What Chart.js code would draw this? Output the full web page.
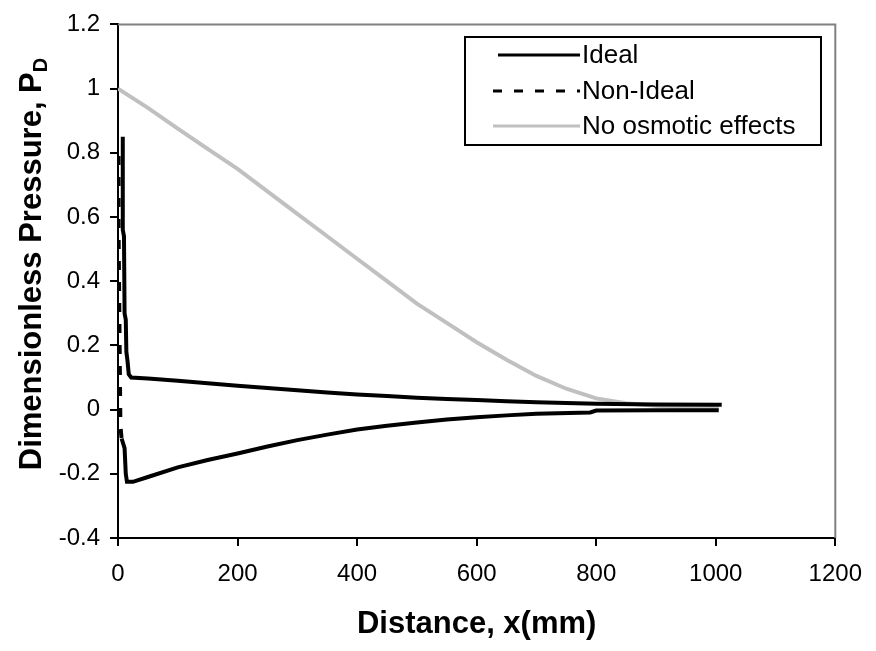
<!DOCTYPE html>
<html>
<head>
<meta charset="utf-8">
<script src="https://cdn.jsdelivr.net/npm/chart.js@4.4.1/dist/chart.umd.min.js"></script>
<style>
  html, body { margin: 0; padding: 0; background: #fff; }
  #wrap { width: 876px; height: 651px; }
</style>
</head>
<body>
<div id="wrap"><canvas id="pressure-chart" width="876" height="651"></canvas></div>
<script>
// distance in mm, dimensionless pressure P_D
var idealX = [8, 8, 10, 11, 13, 14, 16, 18, 22, 50, 100, 150, 200, 250, 300, 350, 400, 450, 500, 550, 600, 650, 700, 800, 900, 1010];
var idealY = [0.85, 0.56, 0.54, 0.30, 0.28, 0.18, 0.15, 0.11, 0.10, 0.097, 0.09, 0.082, 0.074, 0.067, 0.06, 0.053, 0.047, 0.042, 0.037, 0.033, 0.03, 0.026, 0.023, 0.018, 0.016, 0.015];

var nonIdealX = [1, 1, 2, 3, 4, 6, 11, 13, 15, 25, 50, 100, 150, 200, 250, 300, 350, 400, 450, 500, 550, 600, 650, 700, 790, 800, 900, 1005];
var nonIdealY = [0.79, 0.55, 0.35, 0.15, -0.05, -0.09, -0.12, -0.20, -0.225, -0.225, -0.21, -0.18, -0.157, -0.137, -0.115, -0.095, -0.078, -0.062, -0.05, -0.04, -0.031, -0.024, -0.018, -0.013, -0.009, -0.003, -0.002, -0.002];

var noOsmoticX = [0, 50, 100, 150, 200, 250, 300, 350, 400, 450, 500, 550, 600, 650, 700, 750, 800, 850, 900, 950, 1005];
var noOsmoticY = [1.0, 0.94, 0.875, 0.812, 0.75, 0.68, 0.61, 0.54, 0.47, 0.4, 0.33, 0.27, 0.21, 0.155, 0.105, 0.065, 0.035, 0.02, 0.012, 0.007, 0.004];

var xTicks = [0, 200, 400, 600, 800, 1000, 1200];
var yTicks = [-0.4, -0.2, 0, 0.2, 0.4, 0.6, 0.8, 1, 1.2];

var seriesNames = ['Ideal', 'Non-Ideal', 'No osmotic effects'];

var FONT = "'Liberation Sans', Arial, sans-serif";

function toPoints(xs, ys) {
  var pts = [];
  for (var i = 0; i < xs.length; i++) {
    pts.push({x: xs[i], y: ys[i]});
  }
  return pts;
}

// keeps the plot area where the original excel chart had it
function fixWidth(w) {
  return function(scale) { scale.width = w; };
}
function fixHeight(h) {
  return function(scale) { scale.height = h; };
}

// grey frame on top + right, axis titles and the boxed legend
var decorations = {
  id: 'decorations',
  afterDraw: function(chart) {
    var ctx = chart.ctx;
    var area = chart.chartArea;
    ctx.save();

    ctx.strokeStyle = '#808080';
    ctx.lineWidth = 2;
    ctx.beginPath();
    ctx.moveTo(area.left, area.top);
    ctx.lineTo(area.right, area.top);
    ctx.lineTo(area.right, area.bottom);
    ctx.stroke();

    ctx.fillStyle = '#000';
    ctx.font = 'bold 31px ' + FONT;
    ctx.textAlign = 'center';
    ctx.textBaseline = 'middle';
    ctx.fillText('Distance, x(mm)', (area.left + area.right) / 2, 624);

    // y title with subscript D
    ctx.translate(30, 264);
    ctx.rotate(-Math.PI / 2);
    var main = 'Dimensionless Pressure, P';
    ctx.font = 'bold 31px ' + FONT;
    var wMain = ctx.measureText(main).width;
    ctx.font = 'bold 20px ' + FONT;
    var wSub = ctx.measureText('D').width;
    var start = -(wMain + wSub) / 2;
    ctx.textAlign = 'left';
    ctx.textBaseline = 'alphabetic';
    ctx.font = 'bold 31px ' + FONT;
    ctx.fillText(main, start, 11);
    ctx.font = 'bold 20px ' + FONT;
    ctx.fillText('D', start + wMain, 17);
    ctx.setTransform(1, 0, 0, 1, 0, 0);

    // legend
    var box = {left: 465, top: 37, right: 821, bottom: 145};
    ctx.strokeStyle = '#000';
    ctx.lineWidth = 2;
    ctx.strokeRect(box.left, box.top, box.right - box.left, box.bottom - box.top);
    var rows = [55, 91, 126];
    var sampleStart = [498, 493, 493];
    ctx.font = '26px ' + FONT;
    ctx.textAlign = 'left';
    ctx.textBaseline = 'middle';
    chart.data.datasets.forEach(function(ds, i) {
      ctx.strokeStyle = ds.borderColor;
      ctx.lineWidth = 3;
      ctx.setLineDash(ds.borderDash || []);
      ctx.beginPath();
      ctx.moveTo(sampleStart[i], rows[i]);
      ctx.lineTo(580, rows[i]);
      ctx.stroke();
      ctx.setLineDash([]);
      ctx.fillStyle = '#000';
      ctx.fillText(ds.label, 582, rows[i] + 1);
    });

    ctx.restore();
  }
};

var ctx = document.getElementById('pressure-chart');

var chart = new Chart(ctx, {
  type: 'line',
  data: {
    datasets: [
      {
        label: seriesNames[0],
        data: toPoints(idealX, idealY),
        borderColor: '#000000',
        borderWidth: 4,
        pointRadius: 0,
        tension: 0,
        order: 1
      },
      {
        label: seriesNames[1],
        data: toPoints(nonIdealX, nonIdealY),
        borderColor: '#000000',
        borderWidth: 4,
        borderDash: [9, 12],
        pointRadius: 0,
        tension: 0,
        order: 0,
        // excel restarts the dash on every short segment, so the long tail looks solid
        segment: {
          borderDash: function(c) { return c.p0.parsed.x >= 6 ? [] : [9, 12]; }
        }
      },
      {
        label: seriesNames[2],
        data: toPoints(noOsmoticX, noOsmoticY),
        borderColor: '#c0c0c0',
        borderWidth: 4,
        pointRadius: 0,
        tension: 0,
        order: 2
      }
    ]
  },
  options: {
    responsive: false,
    animation: false,
    devicePixelRatio: 1,
    layout: {
      padding: {top: 14, right: 36, left: 0, bottom: 0}
    },
    plugins: {
      legend: {display: false},
      tooltip: {enabled: false}
    },
    scales: {
      x: {
        type: 'linear',
        min: xTicks[0],
        max: xTicks[xTicks.length - 1],
        afterBuildTicks: function(scale) {
          scale.ticks = xTicks.map(function(v) { return {value: v}; });
        },
        afterFit: fixHeight(113),
        ticks: {
          color: '#000',
          font: {family: FONT, size: 24},
          padding: 14,
          maxRotation: 0,
          callback: function(v) { return String(v); }
        },
        grid: {
          drawOnChartArea: false,
          color: '#000',
          tickLength: 8,
          lineWidth: 2
        },
        border: {color: '#000', width: 2}
      },
      y: {
        type: 'linear',
        min: yTicks[0],
        max: yTicks[yTicks.length - 1],
        afterBuildTicks: function(scale) {
          scale.ticks = yTicks.map(function(v) { return {value: v}; });
        },
        afterFit: fixWidth(118),
        ticks: {
          color: '#000',
          font: {family: FONT, size: 24},
          padding: 10,
          callback: function(v) { return String(Math.round(v * 10) / 10); }
        },
        grid: {
          drawOnChartArea: false,
          color: '#000',
          tickLength: 8,
          lineWidth: 2
        },
        border: {color: '#000', width: 2}
      }
    }
  },
  plugins: [decorations]
});
</script>
</body>
</html>
